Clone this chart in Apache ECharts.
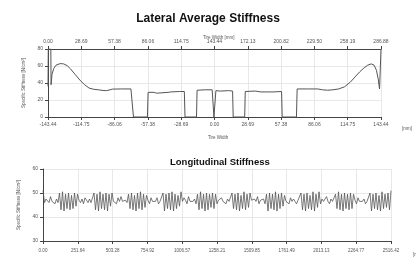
<!DOCTYPE html>
<html>
<head>
<meta charset="utf-8">
<script src="https://cdn.jsdelivr.net/npm/echarts@6/dist/echarts.min.js"></script>
<style>
html, body { margin: 0; padding: 0; background: #fff; }
#chart { width: 416px; height: 263px; }
</style>
</head>
<body>
<div id="chart"></div>
<script>
// tick labels
var widthTopTicks = ['0.00', '28.69', '57.38', '86.06', '114.75', '143.44', '172.13', '200.82', '229.50', '258.19', '286.88'];
var widthBottomTicks = ['-143.44', '-114.75', '-86.06', '-57.38', '-28.69', '0.00', '28.69', '57.38', '86.06', '114.75', '143.44'];
var circTicks = ['0.00', '251.64', '503.28', '754.92', '1006.57', '1258.21', '1509.85', '1761.49', '2013.13', '2264.77', '2516.42'];

// lateral average stiffness, tire width [mm] -> N/cm2
var latWidth = [-143.44, -143.2, -141.0, -140.8, -140.0, -138.5, -136.5, -133.0, -130.0, -127.0, -124.0, -120.0, -116.0, -112.0, -108.0, -104.0,
  -100.0, -96.0, -93.0, -90.0, -88.0, -80.0, -72.0, -70.5, -69.8, -57.8, -57.2, -52.0, -50.0, -49.0, -40.0, -38.5, -37.5, -30.0, -26.0, -25.4,
  -15.5, -15.0, -8.0, -2.0, -0.8, -0.5, 0.9, 1.2, 5.0, 5.6, 6.2, 12.0, 15.6, 16.1, 26.0, 26.5, 35.0, 40.0, 41.0, 50.5, 51.5, 57.8, 58.3,
  70.6, 71.2, 80.0, 89.0, 93.0, 97.5, 102.0, 107.0, 112.0, 117.0, 121.0, 125.0, 129.0, 132.0, 135.0, 137.5, 139.5, 141.0, 142.2, 143.0, 143.44];
var latStiff = [36, 80, 80, 38, 50, 57, 61, 62.8, 62.5, 60.5, 56.5, 50, 43.5, 38, 34, 32.6,
  32, 31.2, 31, 32, 32.8, 33, 33, 32.8, 0, 0, 29, 29, 28, 29, 29, 27.5, 29.5, 30, 30, 0,
  0, 31.5, 32, 32, 31.5, 0, 0, 31, 30.5, 29.5, 30.5, 31, 30.5, 0, 0, 30, 30.5, 29.5, 30, 29.5, 30, 30, 0,
  0, 33, 33, 33, 32, 31.5, 32, 33, 35.5, 41, 47, 53, 58, 61, 62.5, 61, 55, 45, 33, 35, 80];

// longitudinal stiffness, evenly spaced samples round the circumference
var circLength = 2516.42;
var longStiff = [
  51, 46, 47.5, 47, 46, 48.5, 46.5, 47, 45.5, 47.5, 46,
  50, 43, 50.5, 42.5, 49.5, 43.5, 50, 43, 49, 43.5, 50, 44.5,
  49.5, 47, 46, 47.5, 45.5, 48, 47, 46, 47.5, 46, 45.5,
  50, 43, 49.5, 42.5, 50.5, 43.5, 49.5, 43, 50, 42.5, 49.5, 44.5,
  50, 46.5, 47, 45.5, 48, 46.5, 48.5, 46.5, 46, 47, 46,
  49.5, 43.5, 50, 43, 49, 42.5, 50, 43.5, 50.5, 43, 49.5, 44,
  49, 47, 45.5, 48, 46.5, 47, 46.5, 48, 45.5, 46.5, 47,
  50, 42.5, 49.5, 43.5, 50, 43, 50.5, 42.5, 49.5, 43.5, 49, 44.5,
  50.5, 46.5, 48, 47, 45.5, 48.5, 46.5, 47, 46.5, 47.5, 45.5,
  49.5, 43, 50.5, 43.5, 49.5, 42.5, 50, 43, 49.5, 44, 50, 43.5,
  49.5, 45.5, 47, 46.5, 48, 46.5, 47, 45.5, 47.5, 46.5, 47,
  50, 43.5, 49.5, 43, 50, 42.5, 49, 43.5, 50.5, 43, 49.5, 44,
  50, 47, 46.5, 47.5, 46.5, 48.5, 45.5, 47, 46.5, 47.5, 45.5,
  49.5, 42.5, 50, 43.5, 49.5, 43, 50.5, 42.5, 49.5, 43.5, 50, 44.5,
  49, 46.5, 47, 45.5, 48, 46.5, 47.5, 46.5, 45.5, 47, 46.5,
  50, 43, 49.5, 42.5, 50, 43.5, 49, 43, 50.5, 42.5, 49.5, 44,
  50.5, 45.5, 47.5, 46.5, 47, 48.5, 46.5, 45.5, 47.5, 46.5, 47,
  49.5, 43.5, 50.5, 43, 49.5, 42.5, 50, 43.5, 49.5, 43, 50, 43.5,
  49.5, 47, 45.5, 48, 46.5, 47, 46.5, 47.5, 45.5, 46.5, 47,
  50, 42.5, 49.5, 43.5, 50, 43, 49, 42.5, 50.5, 43.5, 49.5, 44,
  50, 43, 51
];

var latData = latWidth.map(function (w, i) { return [w, latStiff[i]]; });
var longStep = circLength / (longStiff.length - 1);
var longData = longStiff.map(function (s, i) { return [i * longStep, s]; });

var sans = "'Liberation Sans', Arial, sans-serif";
var lineColor = '#555';
var axisColor = '#444';
var labelColor = '#555';

function xAxisBase() {
  return {
    type: 'value',
    axisLine: { show: true, onZero: false, lineStyle: { color: axisColor, width: 1 } },
    axisTick: { show: true, length: 3, lineStyle: { color: axisColor } },
    splitLine: { show: true, lineStyle: { color: '#e2e2e2', width: 0.8 } },
    axisLabel: { color: labelColor, fontSize: 5, fontFamily: sans, margin: 5 }
  };
}

var chart = echarts.init(document.getElementById('chart'), null, { renderer: 'canvas' });

var wTop = xAxisBase();
wTop.gridIndex = 0; wTop.position = 'top'; wTop.min = 0; wTop.max = 286.88; wTop.interval = 28.688;
wTop.splitLine = { show: false };
wTop.axisLabel.formatter = function (v) { return widthTopTicks[Math.round(v / 28.688)]; };

var wBottom = xAxisBase();
wBottom.gridIndex = 0; wBottom.position = 'bottom'; wBottom.min = -143.44; wBottom.max = 143.44; wBottom.interval = 28.688;
wBottom.axisLabel.formatter = function (v) { return widthBottomTicks[Math.round((v + 143.44) / 28.688)]; };

var cBottom = xAxisBase();
cBottom.gridIndex = 1; cBottom.min = 0; cBottom.max = circLength; cBottom.interval = circLength / 10;
cBottom.axisLabel.fontSize = 4.5;
cBottom.axisLabel.margin = 7;
cBottom.axisLabel.formatter = function (v) { return circTicks[Math.round(v / (circLength / 10))]; };

function yAxisBase(grid, min, max, interval, gap) {
  return {
    type: 'value', gridIndex: grid, min: min, max: max, interval: interval,
    name: 'Specific Stiffness [N/cm²]', nameLocation: 'middle', nameGap: gap,
    nameTextStyle: { color: labelColor, fontSize: 4.5, fontFamily: sans },
    axisLine: { show: true, onZero: false, lineStyle: { color: axisColor, width: 1 } },
    axisTick: { show: true, length: 3, lineStyle: { color: axisColor } },
    splitLine: { show: true, lineStyle: { color: '#e2e2e2', width: 0.8 } },
    axisLabel: { color: labelColor, fontSize: 5, fontFamily: sans, margin: 5 }
  };
}

function smallText(text, left, top, size) {
  return { text: text, left: left, top: top,
    textStyle: { fontSize: size, fontWeight: 'normal', color: labelColor, fontFamily: sans } };
}

var option = {
  animation: false,
  title: [
    { text: 'Lateral Average Stiffness', left: 'center', top: 8,
      textStyle: { fontSize: 12, fontWeight: 'bold', color: '#111', fontFamily: sans } },
    smallText('Tire Width [mm]', 198, 30, 4.5),
    smallText('Tire Width', 203, 130, 4.5),
    smallText('[mm]', 397, 121, 4.5),
    { text: 'Longitudinal Stiffness', left: 165, top: 152,
      textStyle: { fontSize: 9.5, fontWeight: 'bold', color: '#111', fontFamily: sans } },
    smallText('[mm]', 408, 247, 4.5),
    smallText('Tire Circumference', 200, 258, 4)
  ],
  grid: [
    { left: 48, top: 49, width: 333, height: 68 },
    { left: 43, top: 169, width: 348, height: 72 }
  ],
  xAxis: [wBottom, wTop, cBottom],
  yAxis: [
    yAxisBase(0, 0, 80, 20, 20),
    yAxisBase(1, 30, 60, 10, 17)
  ],
  series: [
    {
      name: 'Lateral', type: 'line', xAxisIndex: 0, yAxisIndex: 0,
      data: latData, showSymbol: false, symbol: 'none',
      lineStyle: { color: lineColor, width: 1 }
    },
    {
      name: 'Longitudinal', type: 'line', xAxisIndex: 2, yAxisIndex: 1,
      data: longData, showSymbol: false, symbol: 'none',
      lineStyle: { color: lineColor, width: 0.8 }
    }
  ]
};
chart.setOption(option);
</script>
</body>
</html>
